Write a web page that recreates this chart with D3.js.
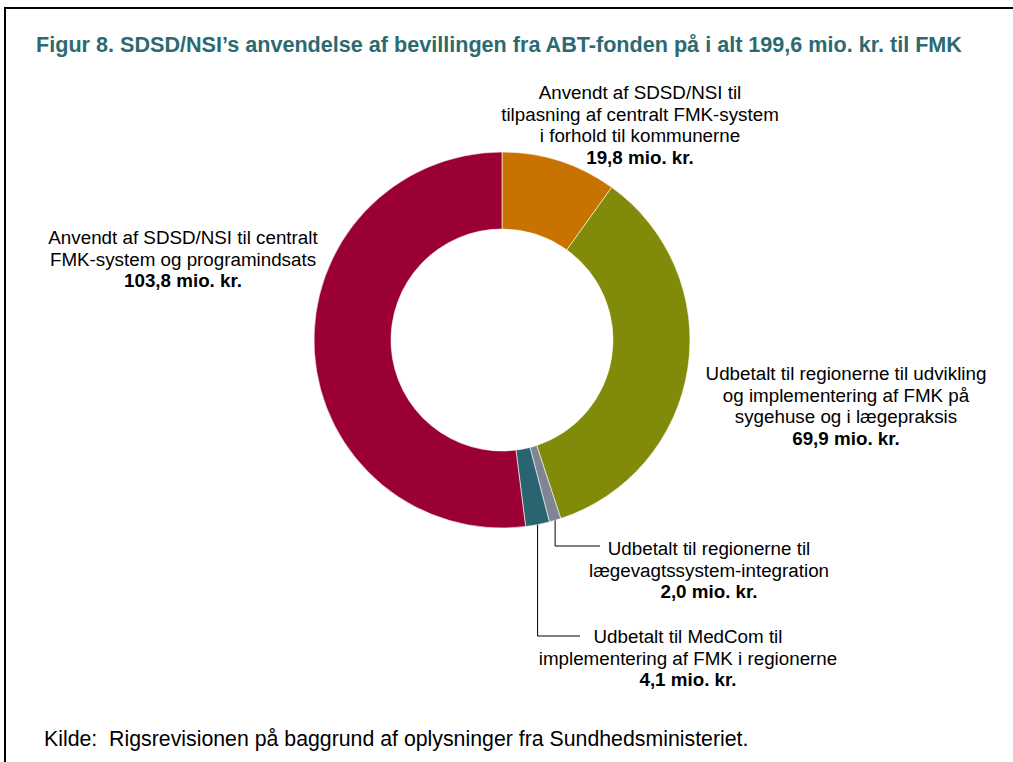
<!DOCTYPE html>
<html><head><meta charset="utf-8">
<script src="https://cdn.jsdelivr.net/npm/d3@7"></script>
<style>body{margin:0;background:#fff}svg{display:block;font-family:"Liberation Sans",Arial,sans-serif}</style>
</head><body><svg id="c" width="1013" height="762"></svg>
<script>
const categories = [
  "Anvendt af SDSD/NSI til tilpasning af centralt FMK-system i forhold til kommunerne",
  "Udbetalt til regionerne til udvikling og implementering af FMK på sygehuse og i lægepraksis",
  "Udbetalt til regionerne til lægevagtssystem-integration",
  "Udbetalt til MedCom til implementering af FMK i regionerne",
  "Anvendt af SDSD/NSI til centralt FMK-system og programindsats"
];
const values = [19.8, 69.9, 2.0, 4.1, 103.8];
const valueLabels = ["19,8 mio. kr.", "69,9 mio. kr.", "2,0 mio. kr.", "4,1 mio. kr.", "103,8 mio. kr."];
const labelLines = [
  ["Anvendt af SDSD/NSI til", "tilpasning af centralt FMK-system", "i forhold til kommunerne"],
  ["Udbetalt til regionerne til udvikling", "og implementering af FMK på", "sygehuse og i lægepraksis"],
  ["Udbetalt til regionerne til", "lægevagtssystem-integration"],
  ["Udbetalt til MedCom til", "implementering af FMK i regionerne"],
  ["Anvendt af SDSD/NSI til centralt", "FMK-system og programindsats"]
];
const colors = ["#c87200", "#828a0a", "#7e8593", "#2a6470", "#9a0033"];
const title = "Figur 8. SDSD/NSI’s anvendelse af bevillingen fra ABT-fonden på i alt 199,6 mio. kr. til FMK";
const source = "Kilde:\u00a0 Rigsrevisionen på baggrund af oplysninger fra Sundhedsministeriet.";

const svg = d3.select("#c");
svg.append("path").attr("d","M5,762 V8 H1013").attr("fill","none").attr("stroke","#000").attr("stroke-width",2);

svg.append("text").attr("x",36).attr("y",52).attr("font-size",21.6).attr("font-weight","bold")
  .attr("fill","#2c6a72").text(title);

const cx = 502, cy = 340, R = 188, r0 = 111;
const g = svg.append("g").attr("transform",`translate(${cx},${cy})`);
const pie = d3.pie().sort(null).value(d=>d)(values);
const arc = d3.arc().innerRadius(r0).outerRadius(R);
g.selectAll("path.s").data(pie).join("path").attr("class","s")
  .attr("d",arc).attr("fill",(d,i)=>colors[i]).attr("stroke","#fff").attr("stroke-width",0.6);

const labelPos = [[640,99],[846,380],[709,555],[688,643],[183,244]];
const lh = 21.5;
labelPos.forEach((p,i)=>{
  const t = svg.append("text").attr("text-anchor","middle").attr("font-size",18.8).attr("fill","#000");
  labelLines[i].forEach((l,j)=>t.append("tspan").attr("x",p[0]).attr("y",p[1]+j*lh).text(l));
  t.append("tspan").attr("x",p[0]).attr("y",p[1]+labelLines[i].length*lh).attr("font-weight","bold").text(valueLabels[i]);
});

const leaders = [[2, 546, 600],[3, 636, 580]];
leaders.forEach(([i, yEnd, xEnd])=>{
  const a = (pie[i].startAngle+pie[i].endAngle)/2;
  const x0 = cx + R*Math.sin(a), y0 = cy - R*Math.cos(a);
  svg.append("path").attr("d",`M${x0},${y0} V${yEnd} H${xEnd}`)
    .attr("fill","none").attr("stroke","#000").attr("stroke-width",1);
});

svg.append("text").attr("x",44).attr("y",746).attr("font-size",21.3).attr("fill","#000").text(source);
</script></body></html>
